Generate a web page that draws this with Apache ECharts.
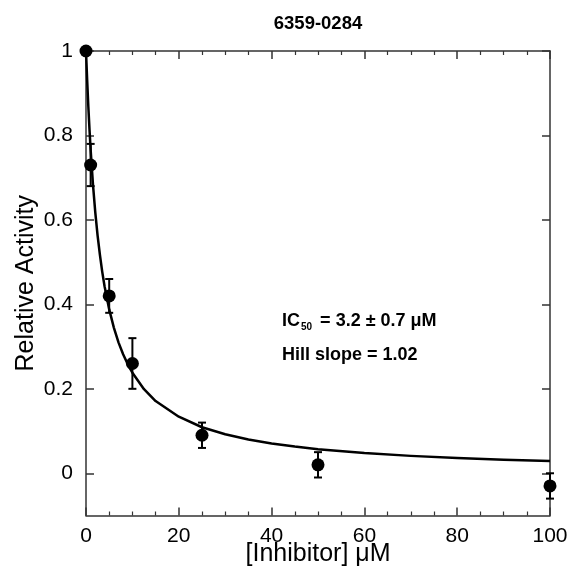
<!DOCTYPE html>
<html>
<head>
<meta charset="utf-8">
<script src="https://cdn.jsdelivr.net/npm/echarts@6/dist/echarts.min.js"></script>
<style>html,body{margin:0;padding:0;background:#fff;}#c{width:571px;height:577px;}</style>
</head>
<body>
<div id="c"></div>
<script>
// ---- data ----
const titleText = '6359-0284';
const doseX = [0, 1, 5, 10, 25, 50, 100];
const activity = [1.0, 0.73, 0.42, 0.26, 0.09, 0.02, -0.03];
const activityErr = [0, 0.05, 0.04, 0.06, 0.03, 0.03, 0.03];
const fitX = [0, 0.02, 0.05, 0.1, 0.25, 0.5, 0.75, 1, 1.5, 2, 2.5, 3, 3.5, 4, 5, 6, 7, 8, 9, 10, 12.5, 15, 20, 25, 30, 35, 40, 45, 50, 60, 70, 80, 90, 100];
const fitY = [1.0, 0.994, 0.986, 0.972, 0.931, 0.869, 0.815, 0.766, 0.684, 0.618, 0.563, 0.517, 0.477, 0.443, 0.388, 0.345, 0.310, 0.282, 0.258, 0.238, 0.199, 0.171, 0.134, 0.109, 0.0925, 0.0802, 0.0707, 0.0632, 0.0571, 0.0479, 0.0412, 0.0362, 0.0322, 0.029];
const yTickValues = [0, 0.2, 0.4, 0.6, 0.8, 1];
const xAxisName = '[Inhibitor] \u03BCM';
const yAxisName = 'Relative Activity';

const FONT = "'Liberation Sans', Arial, Helvetica, sans-serif";
const AXC = '#333';

const chart = echarts.init(document.getElementById('c'), null, {renderer: 'canvas'});

const pointData = doseX.map((x, i) => [x, activity[i]]);
const errData = doseX.map((x, i) => [x, activity[i] - activityErr[i], activity[i] + activityErr[i]]);
const fitData = fitX.map((x, i) => [x, fitY[i]]);

const baseX = {
  type: 'value', min: 0, max: 100, interval: 20,
  axisLine: {show: true, onZero: false, lineStyle: {color: AXC, width: 1.5}},
  axisTick: {show: true, inside: true, length: 8, lineStyle: {color: AXC, width: 1.5}},
  minorTick: {show: true, splitNumber: 4, length: 4, lineStyle: {color: AXC, width: 1.2}},
  splitLine: {show: false}
};
const baseY = {
  type: 'value', min: -0.1, max: 1,
  axisLine: {show: true, onZero: false, lineStyle: {color: AXC, width: 1.5}},
  axisTick: {show: true, inside: true, length: 8, customValues: yTickValues, lineStyle: {color: AXC, width: 1.5}},
  splitLine: {show: false}
};

chart.setOption({
  animation: false,
  backgroundColor: '#fff',
  grid: {left: 86, right: 21, top: 51, bottom: 61.5, containLabel: false, outerBoundsMode: 'none'},
  xAxis: [
    Object.assign({}, baseX, {
      position: 'bottom',
      name: xAxisName, nameLocation: 'middle', nameGap: 26, nameMoveOverlap: false,
      nameTextStyle: {fontFamily: FONT, fontSize: 25, color: '#000'},
      axisLabel: {show: true, margin: 10, fontFamily: FONT, fontSize: 21, color: '#000'}
    }),
    Object.assign({}, baseX, {position: 'top', axisLabel: {show: false}})
  ],
  yAxis: [
    Object.assign({}, baseY, {
      position: 'left',
      name: yAxisName, nameLocation: 'middle', nameGap: 47, nameMoveOverlap: false,
      nameTextStyle: {fontFamily: FONT, fontSize: 25, color: '#000'},
      axisLabel: {show: true, margin: 13, customValues: yTickValues, fontFamily: FONT, fontSize: 21, color: '#000'}
    }),
    Object.assign({}, baseY, {position: 'right', axisLabel: {show: false}})
  ],
  series: [
    {
      type: 'custom', name: 'error', xAxisIndex: 0, yAxisIndex: 0, clip: false, z: 3,
      data: errData,
      renderItem: function (params, api) {
        const x = api.value(0), lo = api.value(1), hi = api.value(2);
        if (hi - lo <= 0) return null;
        const pLo = api.coord([x, lo]);
        const pHi = api.coord([x, hi]);
        const hw = 4;
        const st = {stroke: '#000', lineWidth: 2};
        return {type: 'group', children: [
          {type: 'line', shape: {x1: pLo[0], y1: pLo[1], x2: pHi[0], y2: pHi[1]}, style: st},
          {type: 'line', shape: {x1: pLo[0] - hw, y1: pLo[1], x2: pLo[0] + hw, y2: pLo[1]}, style: st},
          {type: 'line', shape: {x1: pHi[0] - hw, y1: pHi[1], x2: pHi[0] + hw, y2: pHi[1]}, style: st}
        ]};
      }
    },
    {
      type: 'line', name: 'fit', data: fitData, showSymbol: false, symbol: 'none',
      smooth: false, clip: false, z: 4,
      lineStyle: {color: '#000', width: 2.5, join: 'round'}
    },
    {
      type: 'scatter', name: 'data', data: pointData, symbol: 'circle', symbolSize: 13,
      itemStyle: {color: '#000', opacity: 1}, clip: false, z: 5
    }
  ],
  graphic: [
    {
      type: 'text', x: 318, y: 14, z: 10,
      style: {text: titleText, textAlign: 'center', fontFamily: FONT, fontWeight: 'bold', fontSize: 18.5, fill: '#000'}
    },
    {
      type: 'text', x: 282, y: 312, z: 10,
      style: {
        text: '{m|IC}{s|50}{m| = 3.2 \u00B1 0.7 \u03BCM}',
        fontFamily: FONT, fontWeight: 'bold', fill: '#000',
        rich: {
          m: {fontFamily: FONT, fontWeight: 'bold', fontSize: 18, lineHeight: 20, verticalAlign: 'top', color: '#000'},
          s: {fontFamily: FONT, fontWeight: 'bold', fontSize: 10, lineHeight: 11, verticalAlign: 'bottom', color: '#000', padding: [0, 3, 0, 1]}
        }
      }
    },
    {
      type: 'text', x: 282, y: 346, z: 10,
      style: {text: 'Hill slope = 1.02', fontFamily: FONT, fontWeight: 'bold', fontSize: 18, fill: '#000'}
    }
  ]
});
</script>
</body>
</html>
